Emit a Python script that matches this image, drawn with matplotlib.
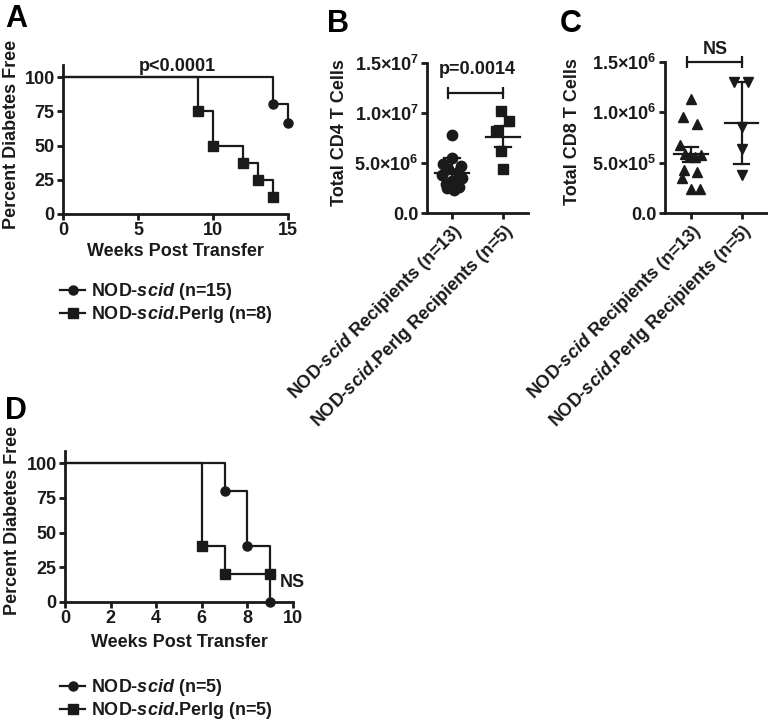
import numpy as np
import matplotlib
matplotlib.use('Agg')
import matplotlib.pyplot as plt
from matplotlib.lines import Line2D

## Data #############################################################
# Panel A survival (weeks, percent diabetes free)
A_scid_t = [0, 14, 15]
A_scid_s = [100, 80, 66.7]
A_perlg_t = [0, 9, 10, 12, 13, 14]
A_perlg_s = [100, 75, 50, 37.5, 25, 12.5]
A_pval = 'p<0.0001'
A_labels = ['NOD-$\\mathit{scid}$ (n=15)', 'NOD-$\\mathit{scid}$.Perlg (n=8)']

# Panel D survival
D_scid_t = [0, 7, 8, 9]
D_scid_s = [100, 80, 40, 0]
D_perlg_t = [0, 6, 7, 9]
D_perlg_s = [100, 40, 20, 20]
D_pval = 'NS'
D_labels = ['NOD-$\\mathit{scid}$ (n=$\\mathit{5)}$', 'NOD-$\\mathit{scid}$.Perlg (n=5)']

# Panel B: total CD4 T cells
B_scid = np.array([7.8, 5.5, 4.9, 4.7, 4.4, 4.1, 3.8, 3.5, 3.2, 2.9, 2.6, 2.5, 2.3])*1e6
B_scid_dx = [0, 0, -0.18, 0.18, -0.08, 0.12, -0.2, 0.2, 0, -0.12, 0.14, -0.1, 0.04]
B_perlg = np.array([10.2, 9.2, 8.2, 6.2, 4.4])*1e6
B_perlg_dx = [-0.03, 0.12, -0.14, -0.03, 0.0]
B_err = [1.5e6, 1.05e6]
B_pval = 'p=0.0014'
B_ticks = [0, 5e6, 1e7, 1.5e7]
B_ticklabels = ['0.0', '5.0×10$^{6}$', '1.0×10$^{7}$', '1.5×10$^{7}$']

# Panel C: total CD8 T cells
C_scid = np.array([11.3, 9.5, 8.8, 6.75, 5.9, 5.7, 5.6, 5.8, 4.27, 4.04, 3.5, 2.4, 2.4])*1e5
C_scid_dx = [0, -0.15, 0.12, -0.22, -0.12, -0.02, 0.08, 0.2, -0.14, 0.12, -0.18, 0.0, 0.18]
C_perlg = np.array([13.0, 13.0, 8.5, 6.4, 3.8])*1e5
C_perlg_dx = [-0.16, 0.13, 0, 0, 0]
C_err = [0.75e5, 4.05e5]
C_pval = 'NS'
C_ticks = [0, 5e5, 1e6, 1.5e6]
C_ticklabels = ['0.0', '5.0×10$^{5}$', '1.0×10$^{6}$', '1.5×10$^{6}$']

groups = ['NOD-$\\mathit{scid}$ Recipients (n=13)', 'NOD-$\\mathit{scid}$.Perlg Recipients (n=5)']
## Data over ########################################################

plt.rcParams['font.family'] = ['Liberation Sans', 'DejaVu Sans']
plt.rcParams['font.weight'] = 'bold'
plt.rcParams['axes.labelweight'] = 'bold'
plt.rcParams['mathtext.fontset'] = 'custom'
plt.rcParams['mathtext.rm'] = 'Liberation Sans:bold'
plt.rcParams['mathtext.bf'] = 'Liberation Sans:bold'
plt.rcParams['mathtext.it'] = 'Liberation Sans:italic:bold'
plt.rcParams['mathtext.default'] = 'rm'

fs = 13
ink = '#1a1a1a'
lw = 1.6
spw = 2.0

W, H = 768, 721
fig = plt.figure(figsize=(W/100, H/100), dpi=100)

def ax_px(l, r, b, t):
    return fig.add_axes([l/W, 1-b/H, (r-l)/W, (b-t)/H])

def style(ax):
    for s in ['top', 'right']:
        ax.spines[s].set_visible(False)
    for s in ['left', 'bottom']:
        ax.spines[s].set_linewidth(spw)
        ax.spines[s].set_color(ink)
    ax.tick_params(width=spw, length=4, color=ink, labelsize=fs, labelcolor=ink, pad=2)
    for t in ax.get_xticklabels() + ax.get_yticklabels():
        t.set_fontweight('bold')

def survival(ax, t, s, marker, ms):
    ax.step(t, s, where='post', color=ink, lw=lw, clip_on=False)
    ax.plot(t[1:], s[1:], marker, color=ink, ms=ms, ls='none', clip_on=False)

def surv_panel(ax, t1, s1, t2, s2, xmax, xticks, labels, ylab_x, xlab_y, leg_y):
    survival(ax, t1, s1, 'o', 6.5)
    survival(ax, t2, s2, 's', 6.5)
    ax.set_xlim(0, xmax)
    ax.set_ylim(0, 108.8)
    ax.set_xticks(xticks)
    ax.set_yticks([0, 25, 50, 75, 100])
    style(ax)
    ax.set_ylabel('Percent Diabetes Free', fontsize=fs, color=ink, va='center')
    ax.yaxis.set_label_coords(ylab_x, 0.537)
    ax.set_xlabel('Weeks Post Transfer', fontsize=fs, color=ink, va='center')
    ax.xaxis.set_label_coords(0.5, xlab_y)
    hs = [Line2D([], [], color=ink, lw=lw, marker='o', ms=6.5),
          Line2D([], [], color=ink, lw=lw, marker='s', ms=6.5)]
    ax.legend(hs, labels, loc='center left', bbox_to_anchor=(60/W, 1-leg_y/H),
              bbox_transform=fig.transFigure, frameon=False,
              prop={'size': fs, 'weight': 'bold'},
              handlelength=1.4, handletextpad=0.3, labelspacing=0.1, borderpad=0,
              borderaxespad=0, labelcolor=ink)

# Panel A
axA = ax_px(63, 288, 214, 65)
surv_panel(axA, A_scid_t, A_scid_s, A_perlg_t, A_perlg_s, 15, [0, 5, 10, 15],
           A_labels, -0.231, -0.255, 303)
axA.text(7.6, 108, A_pval, ha='center', va='center', fontsize=fs, color=ink, clip_on=False)

# Panel D
axD = ax_px(65, 293, 602, 451)
surv_panel(axD, D_scid_t, D_scid_s, D_perlg_t, D_perlg_s, 10, [0, 2, 4, 6, 8, 10],
           D_labels, -0.23, -0.27, 699)
axD.text(9.4, 13.7, D_pval, ha='left', va='center', fontsize=fs, color=ink, clip_on=False)

def dot_panel(ax, d1, dx1, d2, dx2, err, m1, m2, ticks, ticklabels, ylab, ylab_x, pval, br, xlim):
    ax.plot(np.array(dx1), d1, m1, color=ink, ms=7.5, ls='none', clip_on=False)
    ax.plot(1 + np.array(dx2), d2, m2, color=ink, ms=7.5, ls='none', clip_on=False)
    for i, d in enumerate([d1, d2]):
        m = np.mean(d)
        ax.plot([i - 0.33, i + 0.33], [m, m], color=ink, lw=lw)
        ax.plot([i, i], [m - err[i], m + err[i]], color=ink, lw=lw)
        for e in [m - err[i], m + err[i]]:
            ax.plot([i - 0.15, i + 0.15], [e, e], color=ink, lw=lw)
    ax.set_xlim(*xlim)
    ax.set_ylim(0, ticks[-1])
    ax.set_yticks(ticks)
    ax.set_yticklabels(ticklabels)
    ax.set_xticks([0, 1])
    ax.set_xticklabels(groups, rotation=45, ha='right', rotation_mode='anchor')
    style(ax)
    ax.set_ylabel(ylab, fontsize=fs, color=ink, va='center')
    ax.yaxis.set_label_coords(ylab_x, 0.537)
    ax.plot([br[0], br[1]], [br[2], br[2]], color=ink, lw=lw, clip_on=False)
    ax.plot([br[0], br[1]], [br[2], br[2]], '|', color=ink, ms=8, mew=lw, clip_on=False)
    ax.text(0.49, br[3], pval, ha='center', va='center', fontsize=fs, color=ink, clip_on=False)

# Panel B
axB = ax_px(427, 528, 213, 63)
dot_panel(axB, B_scid, B_scid_dx, B_perlg, B_perlg_dx, B_err, 'o', 's',
          B_ticks, B_ticklabels, 'Total CD4 T Cells', -0.871, B_pval,
          (-0.07, 1.0, 1.2e7, 1.43e7), (-0.49, 1.49))

# Panel C
axC = ax_px(665, 767, 213, 62)
dot_panel(axC, C_scid, C_scid_dx, C_perlg, C_perlg_dx, C_err, '^', 'v',
          C_ticks, C_ticklabels, 'Total CD8 T Cells', -0.905, C_pval,
          (-0.08, 1.0, 1.5e6, 1.62e6), (-0.51, 1.5))

# Panel letters
for x, y, s in [(5, 4, 'A'), (327, 9, 'B'), (560, 9, 'C'), (5, 396, 'D')]:
    fig.text(x/W, 1-y/H, s, fontsize=22, fontweight='bold', color='black', ha='left', va='top')

plt.savefig('out.png', dpi=100)
